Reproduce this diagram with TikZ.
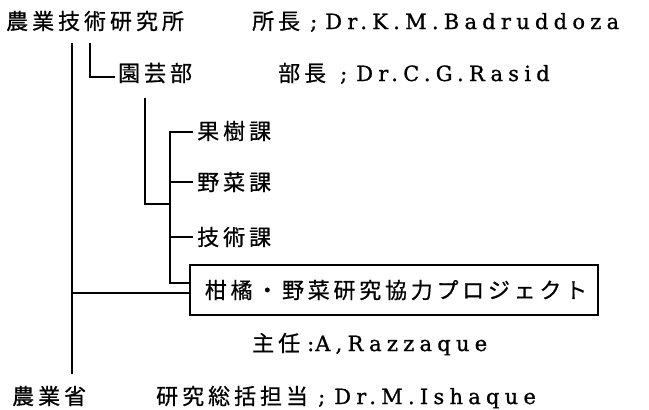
\documentclass[tikz,border=0pt]{standalone}
\usepackage{fontspec}
\newfontfamily\cjk[LetterSpace=18,FakeBold=0.6]{Noto Sans CJK JP}
\newfontfamily\cjkb[LetterSpace=17,FakeBold=0.6]{Noto Sans CJK JP}
\newfontfamily\lat[LetterSpace=25,FakeBold=1]{DejaVu Serif}
\begin{document}
\begin{tikzpicture}[x=1pt,y=-1pt,
  jtxt/.style={anchor=west,inner sep=0pt,font=\fontsize{22}{24}\selectfont\cjk},
  ltxt/.style={anchor=base west,inner sep=0pt,font=\fontsize{21}{24}\selectfont\lat},
  ln/.style={line width=1.3pt,black}]
\useasboundingbox (0,0) rectangle (649,410);
% row 1
\node[jtxt] (n1) at (6,21) {農業技術研究所};
\node[jtxt] (d1) at (252,21) {所長};
\node[ltxt] (d1l) at (310,29) {;\hspace{8pt}Dr.K.M.Badruddoza};
% row 2
\node[jtxt] (n2) at (118,73) {園芸部};
\node[jtxt] (d2) at (278,73) {部長};
\node[ltxt] (d2l) at (340,81) {;\hspace{9pt}Dr.C.G.Rasid};
% sections
\node[jtxt] (k1) at (197,131) {果樹課};
\node[jtxt] (k2) at (197,182) {野菜課};
\node[jtxt] (k3) at (197,237) {技術課};
\node[draw,line width=1.3pt,minimum width=408pt,minimum height=50pt,inner sep=0pt,
  font=\fontsize{22}{24}\selectfont\cjkb] (box) at (394,290) {\hspace{4pt}柑橘・野菜研究協力プロジェクト};
\node[jtxt] (p) at (252,343) {主任};
\node[ltxt] (pl) at (307,351) {:\hspace{1pt}A,Razzaque};
% bottom
\node[jtxt] (m) at (12,396) {農業省};
\node[jtxt] (d3) at (156,396) {研究総括担当};
\node[ltxt] (d3l) at (318,404) {;\hspace{9pt}Dr.M.Ishaque};
% coordinates
\coordinate (t1) at (72,43);
\coordinate (b1) at (72,374);
\coordinate (j1) at (72,293);
\coordinate (t2) at (90,43);
\coordinate (c2) at (115,77);
\coordinate (t3) at (145,98);
\coordinate (c3) at (170,204);
\coordinate (t4) at (170,132);
\coordinate (e1) at (193,132);
\coordinate (e2) at (193,182);
\coordinate (e3) at (193,237);
\coordinate (j4) at (170,283);
\coordinate (s2) at (170,182);
\coordinate (s3) at (170,237);
% connectors
\draw[ln] (t1) -- (b1);
\draw[ln] (j1) -- (j1 -| box.west);
\draw[ln] (t2) |- (c2);
\draw[ln] (t3) |- (c3);
\draw[ln] (e1) -- (t4) -- (j4) -- (j4 -| box.west);
\draw[ln] (s2) -- (e2);
\draw[ln] (s3) -- (e3);
\end{tikzpicture}
\end{document}
